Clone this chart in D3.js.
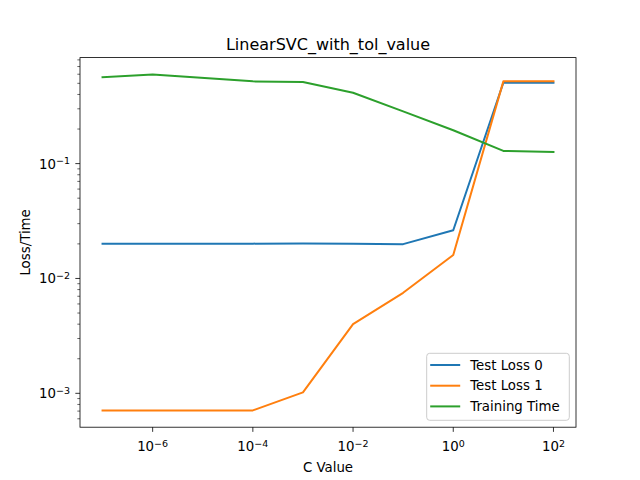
<!DOCTYPE html>
<html>
<head>
<meta charset="utf-8">
<script src="https://cdn.jsdelivr.net/npm/d3@7"></script>
<style>
  body { margin: 0; background: #fff; }
  text { font-family: "DejaVu Sans", sans-serif; fill: #000; }
</style>
</head>
<body>
<svg id="chart" width="640" height="480"></svg>
<script>
// C values on the x axis
const cValues = [1e-7, 1e-6, 1e-4, 1e-3, 1e-2, 1e-1, 1, 10, 100];

// series
const testLoss0 = [0.0201, 0.0201, 0.0201, 0.0202, 0.0201, 0.0199, 0.0263, 0.506, 0.506];
const testLoss1 = [0.00071, 0.00071, 0.00071, 0.00102, 0.0040, 0.0075, 0.016, 0.52, 0.52];
const trainingTime = [0.566, 0.598, 0.52, 0.513, 0.414, 0.285, 0.195, 0.129, 0.126];

const seriesNames = ["Test Loss 0", "Test Loss 1", "Training Time"];
const seriesColors = ["#1f77b4", "#ff7f0e", "#2ca02c"];
const allSeries = [testLoss0, testLoss1, trainingTime];

const xTicks = [1e-6, 1e-4, 1e-2, 1, 100];
const yTicks = [1e-3, 1e-2, 1e-1];

// matplotlib default axes box
const margin = { left: 80, right: 64, top: 57.6, bottom: 52.8 };
const width = 640 - margin.left - margin.right;
const height = 480 - margin.top - margin.bottom;

const svg = d3.select("#chart");
const g = svg.append("g").attr("transform", `translate(${margin.left},${margin.top})`);

// log domains padded by 5% like matplotlib
function padLog(lo, hi) {
  let a = Math.log10(lo), b = Math.log10(hi), m = (b - a) * 0.05;
  return [Math.pow(10, a - m), Math.pow(10, b + m)];
}
const allValues = [].concat(...allSeries);
const x = d3.scaleLog().domain(padLog(d3.min(cValues), d3.max(cValues))).range([0, width]);
const y = d3.scaleLog().domain(padLog(d3.min(allValues), d3.max(allValues))).range([height, 0]);

// power-of-ten label with superscript
function powLabel(sel, v) {
  const e = Math.round(Math.log10(v));
  sel.text("10");
  sel.append("tspan").attr("dy", "-0.45em").attr("font-size", "9.5px")
    .text(e < 0 ? "\u2212" + (-e) : e);
}

// x axis ticks
const xAxis = g.append("g").attr("transform", `translate(0,${height})`);
xTicks.forEach(t => {
  xAxis.append("line").attr("x1", x(t)).attr("x2", x(t)).attr("y1", 0).attr("y2", 4.67)
    .attr("stroke", "#000").attr("stroke-width", 0.8);
  xAxis.append("text").attr("x", x(t)).attr("y", 24).attr("text-anchor", "middle")
    .attr("font-size", "13.33px").call(powLabel, t);
});

// y axis major and minor ticks
const yAxis = g.append("g");
const yDom = y.domain();
for (let d = Math.floor(Math.log10(yDom[0])); d <= Math.ceil(Math.log10(yDom[1])); d++) {
  for (let k = 2; k <= 9; k++) {
    const v = k * Math.pow(10, d);
    if (v < yDom[0] || v > yDom[1]) continue;
    yAxis.append("line").attr("x1", 0).attr("x2", -2.67).attr("y1", y(v)).attr("y2", y(v))
      .attr("stroke", "#000").attr("stroke-width", 0.6);
  }
}
yTicks.forEach(t => {
  yAxis.append("line").attr("x1", 0).attr("x2", -4.67).attr("y1", y(t)).attr("y2", y(t))
    .attr("stroke", "#000").attr("stroke-width", 0.8);
  yAxis.append("text").attr("x", -10).attr("y", y(t) + 5).attr("text-anchor", "end")
    .attr("font-size", "13.33px").call(powLabel, t);
});

// the lines
const line = d3.line().x((d, i) => x(cValues[i])).y(d => y(d));
allSeries.forEach((s, i) => {
  g.append("path").datum(s).attr("d", line).attr("fill", "none")
    .attr("stroke", seriesColors[i]).attr("stroke-width", 2)
    .attr("stroke-linejoin", "round").attr("stroke-linecap", "square");
});

// axes frame
g.append("rect").attr("width", width).attr("height", height)
  .attr("fill", "none").attr("stroke", "#000").attr("stroke-width", 0.8);

// titles
svg.append("text").attr("x", margin.left + width / 2).attr("y", 50)
  .attr("text-anchor", "middle").attr("font-size", "16px").text("LinearSVC_with_tol_value");
svg.append("text").attr("x", margin.left + width / 2).attr("y", 472)
  .attr("text-anchor", "middle").attr("font-size", "13.33px").text("C Value");
svg.append("text").attr("transform", `translate(30,${margin.top + height / 2}) rotate(-90)`)
  .attr("text-anchor", "middle").attr("font-size", "13.33px").text("Loss/Time");

// legend, lower right
const lg = g.append("g").attr("transform", `translate(${width - 149.3},${height - 73.9})`);
lg.append("rect").attr("width", 142.6).attr("height", 67).attr("rx", 3)
  .attr("fill", "#fff").attr("fill-opacity", 0.8).attr("stroke", "#cccccc").attr("stroke-width", 1);
seriesNames.forEach((name, i) => {
  const yy = 11.7 + i * 20.7;
  lg.append("line").attr("x1", 3.5).attr("x2", 33.5).attr("y1", yy).attr("y2", yy)
    .attr("stroke", seriesColors[i]).attr("stroke-width", 2);
  lg.append("text").attr("x", 43.5).attr("y", yy + 4.8).attr("font-size", "13.33px").text(name);
});
</script>
</body>
</html>
